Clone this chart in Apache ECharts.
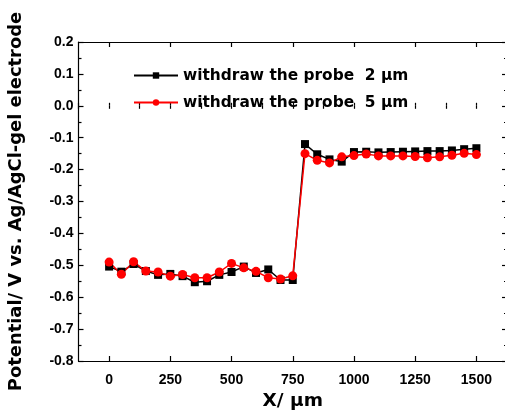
<!DOCTYPE html>
<html>
<head>
<meta charset="utf-8">
<script src="https://cdn.jsdelivr.net/npm/echarts@6/dist/echarts.min.js"></script>
<style>html,body{margin:0;padding:0;background:#fff}#c{width:505px;height:412px}</style>
</head>
<body>
<div id="c"></div>
<script>
const xValues = [0,50,100,150,200,250,300,350,400,450,500,550,600,650,700,750,800,850,900,950,1000,1050,1100,1150,1200,1250,1300,1350,1400,1450,1500];
const probe2 = [-0.504,-0.520,-0.496,-0.518,-0.530,-0.527,-0.534,-0.553,-0.550,-0.530,-0.521,-0.504,-0.524,-0.513,-0.546,-0.546,-0.120,-0.152,-0.168,-0.175,-0.145,-0.144,-0.146,-0.145,-0.144,-0.143,-0.142,-0.142,-0.140,-0.136,-0.133];
const probe5 = [-0.490,-0.528,-0.489,-0.518,-0.521,-0.534,-0.529,-0.539,-0.539,-0.521,-0.494,-0.508,-0.519,-0.539,-0.543,-0.533,-0.150,-0.171,-0.179,-0.160,-0.156,-0.151,-0.157,-0.157,-0.157,-0.159,-0.163,-0.160,-0.155,-0.149,-0.153];
const seriesNames = ['withdraw the probe  2 \u00b5m','withdraw the probe  5 \u00b5m'];
const xTicks = [0,250,500,750,1000,1250,1500];
const xTitle = 'X/ \u00b5m';
const yTitle = 'Potential/ V vs. Ag/AgCl-gel electrode';

const FONT = '"Liberation Sans", Arial, sans-serif';
const WFONT = '"DejaVu Sans", sans-serif';
const chart = echarts.init(document.getElementById('c'), null, {renderer: 'canvas'});
const lineStyle = {color: '#000', width: 1.2};
function xAx(pos, main) {
  return {
    type: 'value', position: pos, min: -125, max: 1625,
    axisLine: {show: true, onZero: false, lineStyle: lineStyle},
    axisTick: {show: true, inside: true, length: 5, lineStyle: lineStyle, customValues: xTicks},
    axisLabel: main ? {show: true, customValues: xTicks, margin: 12, color: '#000', fontSize: 14, fontWeight: 'bold', fontFamily: FONT,
      formatter: v => String(v)} : {show: false},
    splitLine: {show: false},
    name: main ? xTitle : '', nameLocation: 'middle', nameGap: 28,
    nameTextStyle: {color: '#000', fontSize: 18.5, fontWeight: 'bold', fontFamily: WFONT}
  };
}
function xMinor(pos) {
  return {
    type: 'value', position: pos, min: -125, max: 1625, interval: 125,
    axisLine: {show: false},
    axisTick: {show: true, inside: true, length: 3, lineStyle: lineStyle},
    axisLabel: {show: false}, splitLine: {show: false}
  };
}
function yAx(pos, main) {
  return {
    type: 'value', position: pos, min: -0.8, max: 0.2, interval: 0.1,
    axisLine: {show: true, onZero: false, lineStyle: lineStyle},
    axisTick: {show: true, inside: true, length: 5, lineStyle: lineStyle},
    minorTick: {show: true, splitNumber: 2, length: 3, lineStyle: lineStyle},
    axisLabel: main ? {show: true, margin: 5, color: '#000', fontSize: 14, fontWeight: 'bold', fontFamily: FONT,
      formatter: v => v.toFixed(1)} : {show: false},
    splitLine: {show: false},
    name: main ? yTitle : '', nameLocation: 'middle', nameGap: 53.5, nameRotate: 90,
    nameTextStyle: {color: '#000', fontSize: 17.9, fontWeight: 'bold', fontFamily: WFONT}
  };
}
chart.setOption({
  animation: false,
  backgroundColor: '#fff',
  grid: {left: 78.5, top: 42, right: -2, bottom: 51, containLabel: false, outerBoundsMode: 'none'},
  legend: {
    orient: 'vertical', left: 133, top: 68, padding: 0, itemWidth: 44, itemHeight: 8, itemGap: 12,
    textStyle: {color: '#000', fontSize: 15.4, fontWeight: 'bold', fontFamily: WFONT},
    data: seriesNames
  },
  xAxis: [xAx('bottom', true), xMinor('bottom'), xAx('top', false), xMinor('top')],
  yAxis: [yAx('left', true), yAx('right', false)],
  series: [
    {name: seriesNames[0], type: 'line', xAxisIndex: 0, yAxisIndex: 0,
     data: xValues.map((x, i) => [x, probe2[i]]),
     symbol: 'rect', symbolSize: 8, itemStyle: {color: '#000'}, lineStyle: {color: '#000', width: 1.5}},
    {name: seriesNames[1], type: 'line', xAxisIndex: 0, yAxisIndex: 0,
     data: xValues.map((x, i) => [x, probe5[i]]),
     symbol: 'circle', symbolSize: 9, itemStyle: {color: '#ff0000'}, lineStyle: {color: '#ff0000', width: 1.5}}
  ]
});
</script>
</body>
</html>
